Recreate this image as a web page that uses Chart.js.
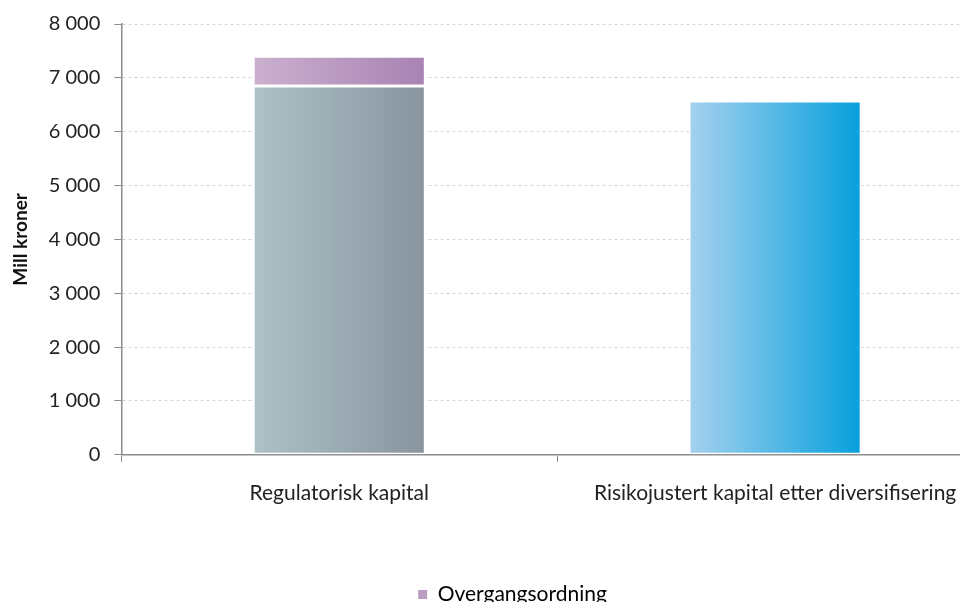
<!DOCTYPE html>
<html>
<head>
<meta charset="utf-8">
<script src="https://cdn.jsdelivr.net/npm/chart.js@4.4.1/dist/chart.umd.min.js"></script>
<style>
  html, body { margin: 0; padding: 0; background: #fff; overflow: hidden; }
  #frame { position: relative; width: 960px; height: 602px; overflow: hidden; }
  #c { position: absolute; left: 0; top: 0; }
</style>
</head>
<body>
<div id="frame"><canvas id="c" width="1025" height="615"></canvas></div>
<script>
const categories = ['Regulatorisk kapital', 'Risikojustert kapital etter diversifisering'];
const kapitalkrav = [6850, null];
const overgangsordning = [550, null];
const risikojustert = [null, 6570];
const yTicks = [0, 1000, 2000, 3000, 4000, 5000, 6000, 7000, 8000];

const BAR_FRACTION = 0.395;
const FONT = 'Lato, "Open Sans", sans-serif';

// horizontal gradient across the width of each bar
function barGradient(left, right, fallback) {
  return (c) => {
    const ch = c.chart;
    const xs = ch.scales && ch.scales.x;
    if (!xs || !ch.chartArea || c.dataIndex === undefined) return fallback;
    const cw = xs.width / categories.length;
    const cx = xs.getPixelForValue(c.dataIndex);
    const w = cw * BAR_FRACTION;
    const g = ch.ctx.createLinearGradient(cx - w / 2, 0, cx + w / 2, 0);
    g.addColorStop(0, left);
    g.addColorStop(1, right);
    return g;
  };
}

// nudge the legend row to sit under the middle of the plot
const legendShift = {
  id: 'legendShift',
  afterLayout(chart) {
    if (chart.legend) {
      chart.legend.left += 16;
      chart.legend.right += 16;
    }
  }
};

const fmt = v => String(v).replace(/\B(?=(\d{3})+(?!\d))/g, ' ');

new Chart(document.getElementById('c'), {
  type: 'bar',
  plugins: [legendShift],
  data: {
    labels: categories,
    datasets: [
      {
        label: 'Kapitalkrav',
        data: kapitalkrav,
        backgroundColor: barGradient('#aec2c8', '#88949e', '#9aa9b1'),
        borderColor: '#ffffff',
        borderWidth: 1.5,
        borderSkipped: false
      },
      {
        label: 'Overgangsordning',
        data: overgangsordning,
        backgroundColor: barGradient('#cbb0cf', '#a883b3', '#b99ac1'),
        borderColor: '#ffffff',
        borderWidth: 1.5,
        borderSkipped: false
      },
      {
        label: 'Risikojustert kapital',
        data: risikojustert,
        backgroundColor: barGradient('#a6d1ee', '#06a0dd', '#5ab8e5'),
        borderColor: '#ffffff',
        borderWidth: 1.5,
        borderSkipped: false
      }
    ]
  },
  options: {
    responsive: false,
    animation: false,
    devicePixelRatio: 1,
    datasets: { bar: { categoryPercentage: 1, barPercentage: BAR_FRACTION } },
    layout: { padding: { top: 3, right: 32, left: 0, bottom: 0 } },
    plugins: {
      tooltip: { enabled: false },
      legend: {
        position: 'bottom',
        labels: {
          boxWidth: 9,
          boxHeight: 9,
          padding: 10,
          color: '#222',
          font: { family: FONT, size: 21 },
          generateLabels: () => [{
            text: 'Overgangsordning',
            fillStyle: '#bb9dc4',
            strokeStyle: '#bb9dc4',
            lineWidth: 0,
            datasetIndex: 1
          }]
        }
      }
    },
    scales: {
      x: {
        stacked: true,
        offset: true,
        afterFit: scale => { scale.height += 49; },
        grid: {
          offset: true,
          drawOnChartArea: false,
          tickLength: 7,
          tickColor: '#8c8c8c'
        },
        border: { color: '#8c8c8c', width: 1.5 },
        ticks: {
          padding: 19,
          maxRotation: 0,
          autoSkip: false,
          color: '#222',
          font: { family: FONT, size: 21 }
        }
      },
      y: {
        stacked: true,
        min: 0,
        max: 8000,
        afterBuildTicks: axis => { axis.ticks = yTicks.map(v => ({ value: v })); },
        grid: {
          color: '#d4d4d4',
          tickColor: '#8c8c8c',
          tickLength: 7,
          tickBorderDash: [],
          lineWidth: 1
        },
        border: { color: '#8c8c8c', width: 1.5, dash: [3, 3] },
        ticks: {
          padding: 14,
          color: '#222',
          font: { family: FONT, size: 20, lineHeight: 1 },
          callback: v => fmt(v)
        },
        title: {
          display: true,
          text: 'Mill kroner',
          color: '#111',
          padding: { top: 9, bottom: 3 },
          font: { family: FONT, size: 19, weight: 'bold' }
        }
      }
    }
  }
});
</script>
</body>
</html>
